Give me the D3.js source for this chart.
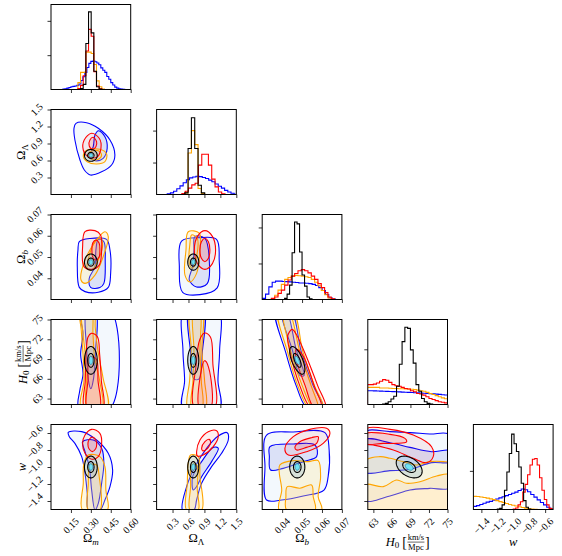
<!DOCTYPE html>
<html><head><meta charset="utf-8">
<script src="https://cdn.jsdelivr.net/npm/d3@7"></script>
<style>body{margin:0;background:#fff}svg{display:block}text{font-family:"Liberation Serif","DejaVu Serif",serif;fill:#000}</style>
</head><body><svg id="c" width="562" height="556"></svg>
<script>
// ---------------- DATA ----------------
const vars = ["Om","OL","Ob","H0","w"];
const domains = {Om:[0,0.6], OL:[0,1.5], Ob:[0.03,0.07], H0:[62.1,75], w:[-1.5,-0.5]};
const ticks = {Om:[0.15,0.30,0.45,0.60], OL:[0.3,0.6,0.9,1.2,1.5], Ob:[0.04,0.05,0.06,0.07], H0:[63,66,69,72,75], w:[-1.4,-1.2,-1.0,-0.8,-0.6]};
const tickDecimals = {Om:2, OL:1, Ob:2, H0:0, w:1};
const series = ["blue","orange","red","black"];
const seriesColor = {blue:"#0000ff", orange:"#ffa500", red:"#ff0000", black:"#000000"};

// histogram heights (arbitrary density units), bins: [start, width]
const histTop = {Om:24.76, OL:26.6, Ob:23.6, H0:15.4, w:22.0};
const histTicks = {Om:[10,20], OL:[10,20], Ob:[10,20], H0:[10], w:[10]};

const omBins = {blue:[0.09,0.015], orange:[0.2025,0.02], red:[0.2025,0.02], black:[0.2025,0.02]};
const omBlue = [0.1,0.2,0.4,0.6,0.8,0.9,1.0,1.2,1.6,2.6,3.7,5.0,6.4,7.6,8.2,8.3,8.1,7.7,7.2,6.3,5.6,5.0,3.8,3.0,2.0,1.3,0.7,0.4,0.2,0.1,0.05];
const omOrange = [2.0,5.0,5.0,10.9,10.9,10.5,7.3,2.5,0.8,0.1];
const omRed = [0.3,1.2,4.0,11.2,17.5,15.5,5.2,1.0,0.2];
const omBlack = [0.0,0.3,1.5,13.4,22.6,16.5,5.3,0.8,0.1];

const olBins = {blue:[0.20,0.06], orange:[0.53,0.0625], red:[0.475,0.0625], black:[0.53,0.0625]};
const olBlue = [0.2,0.5,1.0,1.8,2.7,3.7,4.6,5.2,5.5,5.7,5.6,5.3,5.0,4.5,4.0,3.3,2.6,2.0,1.3,0.8,0.4,0.1];
const olOrange = [0.5,13,20,15.6,1.9,0.3];
const olRed = [0.3,1.0,2.0,3.0,3.5,9.2,12.6,12.6,9.2,4.8,2.4,0.8,0.2];
const olBlack = [0.5,14.4,24.0,14.4,2.9,0.5];

const obBins = {blue:[0.030,0.00167], orange:[0.0346,0.00167], red:[0.0346,0.00167], black:[0.04125,0.00125]};
const obBlue = [0.3,1.5,3.5,4.8,5.1,5.1,5.0,4.95,4.9,4.8,4.7,4.6,4.6,4.5,4.4,4.2,3.9,3.3,2.5,1.4,0.5,0.1];
const obOrange = [0.2,1.2,2.6,4.2,5.6,6.1,6.5,6.7,6.6,6.5,6.3,6.1,5.6,4.8,3.8,2.5,1.3,0.4,0.1];
const obRed = [0.3,0.7,1.7,2.6,4.0,5.4,6.5,7.2,8.0,8.3,8.0,7.4,6.5,5.6,4.4,3.3,1.9,0.7,0.2];
const obBlack = [0.3,1.5,4.0,13.0,21.5,21.0,13.2,6.8,3.7,0.7,0.2];

const h0Bins = {blue:[62.0,0.5], orange:[62.0,0.5], red:[62.0,0.5], black:[64.5,0.45]};
const h0Blue = [2.5,2.48,2.46,2.44,2.42,2.4,2.38,2.35,2.33,2.3,2.28,2.25,2.22,2.2,2.17,2.14,2.1,2.07,2.03,2.0,1.96,1.92,1.88,1.83,1.78,1.72];
const h0Orange = [3.1,3.1,3.1,3.1,3.0,3.0,3.0,2.95,2.9,2.9,2.85,2.85,2.8,2.8,2.75,2.7,2.6,2.5,2.4,2.2,2.0,1.8,1.6,1.4,1.2,1.05];
const h0Red = [3.6,3.6,3.7,3.9,4.2,4.5,4.4,4.0,3.6,3.4,3.3,3.1,2.9,2.8,2.5,2.3,2.0,1.9,1.7,1.4,1.1,0.9,0.7,0.5,0.4,0.3];
const h0Black = [0.1,0.2,0.5,1.0,1.5,3.3,7.3,11.4,14.0,13.8,9.9,7.5,3.6,2.4,1.1,0.5,0.2,0.1];

const wBins = {blue:[-1.5,0.04], orange:[-1.5,0.04], red:[-1.0,0.03], black:[-1.2,0.03]};
const wBlue = [0.8,1.0,1.3,1.6,1.9,2.1,2.4,2.7,3.0,3.3,3.6,3.9,4.2,4.5,4.9,5.3,5.1,4.6,3.9,3.2,2.5,1.8,1.2,0.6,0.1];
const wOrange = [3.4,3.35,3.25,3.1,2.95,2.75,2.55,2.3,2.05,1.8,1.55,1.3,1.1,0.9,0.7,0.5,0.35,0.2,0.1,0.05];
const wRed = [0.1,0.4,1.2,2.0,4.5,6.5,9.0,11.5,13.0,13.2,11.5,8.2,5.0,2.6,1.2,0.3,0.1];
const wBlack = [0.1,0.3,1.2,5.0,9.7,14.5,19.5,17.0,15.0,11.0,6.8,2.3,0.6,0.1];

const histValues = {
  Om:{blue:omBlue, orange:omOrange, red:omRed, black:omBlack},
  OL:{blue:olBlue, orange:olOrange, red:olRed, black:olBlack},
  Ob:{blue:obBlue, orange:obOrange, red:obRed, black:obBlack},
  H0:{blue:h0Blue, orange:h0Orange, red:h0Red, black:h0Black},
  w:{blue:wBlue, orange:wOrange, red:wRed, black:wBlack}
};
const histBins = {Om:omBins, OL:olBins, Ob:obBins, H0:h0Bins, w:wBins};

// 2D credible contours: [outer, inner] as [x,y] lists (x = column variable)
const cOL_Om = {
 blue:[[[0.188,1.256],[0.268,1.267],[0.356,1.168],[0.444,0.962],[0.481,0.697],[0.456,0.52],[0.381,0.40],[0.297,0.344],[0.251,0.432],[0.218,0.609],[0.180,0.962],[0.173,1.168]],
       [[0.358,1.126],[0.406,1.02],[0.423,0.815],[0.393,0.639],[0.331,0.597],[0.288,0.667],[0.318,0.844],[0.331,1.05]]],
 orange:[[[0.273,0.785],[0.368,0.797],[0.419,0.715],[0.406,0.579],[0.343,0.538],[0.273,0.579],[0.243,0.679]],
       [[0.293,0.755],[0.356,0.773],[0.381,0.697],[0.356,0.621],[0.306,0.621],[0.280,0.679]]],
 red:[[[0.306,1.08],[0.363,0.992],[0.376,0.815],[0.343,0.656],[0.280,0.667],[0.243,0.785],[0.250,0.962]],
       [[0.318,1.009],[0.343,0.932],[0.338,0.844],[0.314,0.798],[0.288,0.856],[0.293,0.962]]]
};
const cOb_Om = {
 blue:[[[0.213,0.0572],[0.293,0.0587],[0.418,0.0583],[0.444,0.0533],[0.449,0.0423],[0.431,0.0357],[0.356,0.0334],[0.256,0.0337],[0.213,0.0357],[0.198,0.0455],[0.203,0.0533]],
       [[0.356,0.0583],[0.398,0.0572],[0.408,0.0486],[0.398,0.0376],[0.368,0.0356],[0.298,0.0357],[0.288,0.0400],[0.331,0.0455],[0.338,0.0533]]],
 orange:[[[0.406,0.0619],[0.431,0.0596],[0.393,0.0502],[0.331,0.0415],[0.256,0.0376],[0.226,0.0392],[0.256,0.0486],[0.343,0.0580]],
       [[0.368,0.0588],[0.388,0.0565],[0.356,0.0486],[0.306,0.0439],[0.273,0.0447],[0.293,0.0518],[0.338,0.0580]]],
 red:[[[0.256,0.0619],[0.331,0.0624],[0.373,0.0604],[0.381,0.0533],[0.363,0.0462],[0.306,0.0442],[0.248,0.0455],[0.238,0.0549]],
       [[0.338,0.0580],[0.362,0.0566],[0.368,0.0533],[0.362,0.0500],[0.338,0.0486],[0.314,0.0500],[0.308,0.0533],[0.314,0.0566]]]
};
const cOb_OL = {
 blue:[[[0.47,0.0575],[0.815,0.0591],[1.128,0.0583],[1.178,0.0488],[1.14,0.0355],[0.815,0.0323],[0.49,0.0334],[0.428,0.0456]],
       [[0.72,0.0596],[0.909,0.0588],[0.991,0.0486],[0.953,0.0375],[0.753,0.0359],[0.615,0.0392],[0.678,0.0455],[0.703,0.0533]]],
 orange:[[[0.596,0.0619],[0.803,0.0612],[0.815,0.0533],[0.753,0.0423],[0.628,0.0383],[0.534,0.0415],[0.553,0.0533]],
       [[0.659,0.0604],[0.765,0.0588],[0.753,0.0502],[0.678,0.0447],[0.615,0.0470],[0.628,0.0565]]],
 red:[[[0.91,0.0624],[1.05,0.0597],[1.11,0.0533],[1.05,0.0469],[0.91,0.0442],[0.77,0.0469],[0.71,0.0533],[0.77,0.0597]],
       [[0.909,0.0588],[0.975,0.0572],[1.003,0.0533],[0.975,0.0494],[0.909,0.0478],[0.843,0.0494],[0.815,0.0533],[0.843,0.0572]]]
};
const cH0_Om = {
 blue:[[[0.228,76.4],[0.449,76.4],[0.449,61.6],[0.211,61.6],[0.216,64.15],[0.241,66.74],[0.223,69.77],[0.241,72.8]],
       [[0.27,76.4],[0.335,76.4],[0.335,70],[0.32,66],[0.30,64.5],[0.28,66],[0.27,70]]],
 orange:[[[0.223,76.4],[0.323,76.4],[0.333,73.81],[0.353,70.28],[0.391,66.23],[0.424,61.6],[0.228,61.6],[0.248,65.72],[0.241,69.77],[0.228,73.3]],
       [[0.236,76.4],[0.303,76.4],[0.316,72.8],[0.328,69.27],[0.366,65.72],[0.384,61.6],[0.273,61.6],[0.266,65.72],[0.258,69.77],[0.241,72.8]]],
 red:[[[0.303,72.9],[0.349,72.4],[0.366,69.77],[0.379,65.72],[0.391,61.6],[0.253,61.6],[0.258,65.72],[0.266,70.28],[0.278,72.3]],
       [[0.291,69.27],[0.341,69.0],[0.354,65.72],[0.366,61.6],[0.273,61.6],[0.278,65.72]]]
};
const cH0_OL = {
 blue:[[[0.527,76.4],[1.155,76.4],[1.186,70.28],[1.155,65.72],[1.186,61.6],[0.496,61.6],[0.527,65.72],[0.496,70.28]],
       [[0.62,76.4],[0.88,76.4],[0.86,70],[0.80,66],[0.70,66],[0.64,70]]],
 orange:[[[0.640,76.4],[0.853,76.4],[0.853,70.28],[0.903,65.72],[0.916,61.6],[0.590,61.6],[0.621,65.72],[0.652,70.28]],
       [[0.697,76.4],[0.81,76.4],[0.816,70.28],[0.841,65.72],[0.853,61.6],[0.665,61.6],[0.684,65.72],[0.703,70.28]]],
 red:[[[0.903,72.95],[1.015,72.3],[1.059,68.24],[1.09,61.6],[0.715,61.6],[0.746,68.24],[0.81,71.9]],
       [[0.903,68.75],[0.978,67.74],[1.015,61.6],[0.81,61.6],[0.828,66.73]]]
};
const cH0_Ob = {
 blue:[[[0.0368,76.4],[0.0442,76.4],[0.0497,70],[0.0555,65],[0.0605,61.6],[0.0525,61.6],[0.0470,65],[0.0418,70]],
       [[0.0395,76.4],[0.0420,76.4],[0.0470,70.5],[0.0510,66.5],[0.0490,66.5],[0.0450,70.5]]],
 orange:[[[0.0380,76.4],[0.0452,76.4],[0.0505,70],[0.0562,65],[0.0605,61.6],[0.0535,61.6],[0.0478,65],[0.0428,70]],
       [[0.0405,76.4],[0.0432,76.4],[0.0490,70],[0.0545,65],[0.0580,61.6],[0.0555,61.6],[0.0500,65],[0.0445,70]]],
 red:[[[0.0428,72.5],[0.0450,73.5],[0.0470,72.8],[0.0520,69.5],[0.0578,65],[0.0618,61.6],[0.0545,61.6],[0.0488,65],[0.0440,70]],
       [[0.0470,70.5],[0.0505,69.5],[0.0560,65],[0.0598,61.6],[0.0560,61.6],[0.0515,65],[0.0470,69]]]
};
const cW_Om = {
 blue:[[[0.130,-0.592],[0.231,-0.584],[0.343,-0.682],[0.431,-0.839],[0.464,-1.035],[0.444,-1.231],[0.406,-1.388],[0.368,-1.506],[0.281,-1.506],[0.273,-1.31],[0.256,-1.075],[0.231,-0.878],[0.180,-0.722],[0.138,-0.643]],
       [[0.238,-0.702],[0.318,-0.682],[0.381,-0.780],[0.398,-0.957],[0.381,-1.192],[0.356,-1.427],[0.331,-1.506],[0.306,-1.271],[0.288,-0.996],[0.256,-0.820]]],
 orange:[[[0.281,-0.859],[0.368,-0.878],[0.406,-0.996],[0.413,-1.271],[0.424,-1.506],[0.238,-1.506],[0.243,-1.192],[0.248,-0.957]],
       [[0.293,-0.976],[0.343,-0.976],[0.363,-1.114],[0.368,-1.506],[0.281,-1.506],[0.281,-1.192],[0.283,-1.035]]],
 red:[[[0.256,-0.623],[0.306,-0.557],[0.368,-0.604],[0.381,-0.739],[0.356,-0.878],[0.306,-0.909],[0.256,-0.839],[0.238,-0.721]],
       [[0.311,-0.647],[0.336,-0.68],[0.344,-0.733],[0.336,-0.786],[0.311,-0.819],[0.286,-0.786],[0.278,-0.733],[0.286,-0.68]]]
};
const cW_OL = {
 blue:[[[0.49,-1.506],[0.565,-1.231],[0.722,-0.996],[0.941,-0.780],[1.161,-0.635],[1.330,-0.596],[1.349,-0.682],[1.223,-0.839],[1.035,-0.996],[0.847,-1.192],[0.753,-1.388],[0.703,-1.506]],
       [[0.678,-1.114],[0.847,-0.937],[1.066,-0.769],[1.161,-0.78],[1.035,-0.937],[0.847,-1.114],[0.753,-1.231],[0.69,-1.271]]],
 orange:[[[0.64,-0.859],[0.784,-0.878],[0.816,-1.114],[0.847,-1.506],[0.565,-1.506],[0.578,-1.192],[0.596,-0.957]],
       [[0.659,-0.976],[0.753,-0.976],[0.766,-1.271],[0.784,-1.506],[0.628,-1.506],[0.64,-1.231]]],
 red:[[[0.753,-0.82],[0.816,-0.682],[0.972,-0.584],[1.129,-0.573],[1.161,-0.643],[1.066,-0.761],[0.878,-0.859],[0.766,-0.871]],
       [[0.847,-0.78],[0.91,-0.702],[0.991,-0.675],[1.016,-0.714],[0.941,-0.792],[0.866,-0.808]]]
};
const cW_Ob = {
 blue:[[[0.0322,-0.624],[0.0456,-0.588],[0.0615,-0.596],[0.0636,-0.8],[0.0631,-1.114],[0.0610,-1.271],[0.0506,-1.341],[0.0398,-1.388],[0.0322,-1.388],[0.0314,-0.996]],
       [[0.0339,-0.761],[0.0456,-0.729],[0.0565,-0.741],[0.0573,-0.878],[0.0506,-0.937],[0.0406,-1.016],[0.0342,-1.035],[0.0336,-0.878]]],
 orange:[[[0.0389,-0.976],[0.0456,-0.925],[0.0531,-0.937],[0.0581,-0.925],[0.0593,-1.114],[0.0581,-1.349],[0.0598,-1.506],[0.0386,-1.506],[0.0398,-1.271],[0.0386,-1.075]],
       [[0.0426,-1.231],[0.0489,-1.25],[0.0548,-1.212],[0.0556,-1.349],[0.0565,-1.506],[0.0423,-1.506],[0.0419,-1.349]]],
 red:[[[0.0414,-0.780],[0.0456,-0.643],[0.0539,-0.557],[0.0623,-0.545],[0.0640,-0.604],[0.0606,-0.722],[0.0523,-0.82],[0.0431,-0.859]],
       [[0.0464,-0.769],[0.0489,-0.702],[0.0548,-0.655],[0.0581,-0.643],[0.0573,-0.722],[0.0523,-0.769],[0.0473,-0.8]]]
};
const cW_H0 = {
 blue:[[[61.5,-0.596],[65.69,-0.584],[68.92,-0.596],[72.15,-0.612],[75.5,-0.624],[75.5,-1.239],[72.15,-1.251],[68.92,-1.271],[65.69,-1.341],[61.5,-1.388]],
       [[61.5,-0.682],[65.69,-0.714],[68.92,-0.769],[72.42,-0.82],[75.5,-0.808],[75.5,-0.937],[72.42,-0.949],[68.92,-1.027],[65.69,-1.043],[61.5,-1.055]]],
 orange:[[[61.5,-0.937],[64.07,-0.878],[65.69,-0.898],[67.84,-0.937],[70.0,-0.976],[72.15,-0.937],[74.31,-0.937],[75.5,-0.957],[75.5,-1.6],[61.5,-1.6]],
       [[61.5,-1.212],[64.61,-1.231],[66.77,-1.153],[68.38,-1.192],[70.54,-1.173],[73.23,-1.106],[75.5,-1.094],[75.5,-1.6],[61.5,-1.6]]],
 red:[[[61.92,-0.549],[65.69,-0.557],[69.46,-0.624],[72.42,-0.761],[72.69,-0.878],[71.62,-0.949],[69.46,-0.898],[66.23,-0.8],[62.99,-0.741],[61.5,-0.722]],
       [[61.5,-0.612],[65.69,-0.616],[68.11,-0.663],[68.38,-0.702],[66.77,-0.722],[64.61,-0.722],[61.5,-0.722]]]
};
const contours2D = {OL_Om:cOL_Om, Ob_Om:cOb_Om, Ob_OL:cOb_OL, H0_Om:cH0_Om, H0_OL:cH0_OL, H0_Ob:cH0_Ob, w_Om:cW_Om, w_OL:cW_OL, w_Ob:cW_Ob, w_H0:cW_H0};

// black (tight) constraint: mean, sigma, correlations
const blackMean = {Om:0.30, OL:0.69, Ob:0.0476, H0:68.8, w:-1.0};
const blackSigma = {Om:0.024, OL:0.052, Ob:0.0019, H0:1.05, w:0.064};
const blackCorr = {"Ob|H0":-0.65, "H0|w":-0.4};
const blackLevels = [2, 1];
const cyanLevel = 0.6;

// ---------------- STYLE / LAYOUT ----------------
const PW = 79.7, PH = 85;
const colX0 = j => 51 + 105.6*j;
const rowY0 = i => 4.5 + 105*i;
const fills = {
  blue:[{c:"#5a9ae6",o:0.07},{c:"#3040d0",o:0.12}],
  orange:[{c:"#ffe680",o:0.24},{c:"#ffb060",o:0.13}],
  red:[{c:"#ff2020",o:0.07},{c:"#ff2020",o:0.13}]
};
const svg = d3.select("#c");
const defs = svg.append("defs");
const fmtTick = (v,val) => { const s = val.toFixed(tickDecimals[v]); return s.replace("-","\u2212"); };

function xScale(v,j){ return d3.scaleLinear().domain(domains[v]).range([colX0(j), colX0(j)+PW]); }
function yScale(v,i){ return d3.scaleLinear().domain(domains[v]).range([rowY0(i)+PH, rowY0(i)]); }

function gaussPts(mx,my,sx,sy,rho,k){
  const pts=[]; const s=Math.sqrt(1-rho*rho);
  for(let a=0;a<72;a++){ const t=a/72*2*Math.PI;
    pts.push([mx+k*sx*Math.cos(t), my+k*sy*(rho*Math.cos(t)+s*Math.sin(t))]); }
  return pts;
}

for(let i=0;i<5;i++){
  for(let j=0;j<=i;j++){
    const x0=colX0(j), y0=rowY0(i);
    const cid=`clip${i}${j}`;
    defs.append("clipPath").attr("id",cid).append("rect").attr("x",x0).attr("y",y0).attr("width",PW).attr("height",PH);
    const g = svg.append("g");
    const inner = g.append("g").attr("clip-path",`url(#${cid})`);
    const xv = vars[j], yv = vars[i];
    const x = xScale(xv,j);
    let y;
    if(i===j){
      y = d3.scaleLinear().domain([0,histTop[xv]]).range([y0+PH,y0]);
      const line = d3.line().x(d=>x(d[0])).y(d=>y(d[1]));
      series.forEach(s=>{
        const [st,wd] = histBins[xv][s]; const vals = histValues[xv][s];
        const pts=[[st,0]];
        vals.forEach((v,k)=>{ pts.push([st+k*wd,v]); pts.push([st+(k+1)*wd,v]); });
        pts.push([st+vals.length*wd,0]);
        inner.append("path").attr("d",line(pts)).attr("fill","none").attr("stroke",seriesColor[s]).attr("stroke-width",1.1);
      });
      g.append("g").attr("transform",`translate(${x0},0)`).call(d3.axisLeft(y).tickValues(histTicks[xv]).tickSize(3.5).tickFormat(""));
    } else {
      y = yScale(yv,i);
      const line = d3.line().x(d=>x(d[0])).y(d=>y(d[1])).curve(d3.curveCatmullRomClosed.alpha(0.5));
      const cset = contours2D[`${yv}_${xv}`];
      ["blue","orange","red"].forEach(s=>{
        const [outer,innerC] = cset[s];
        inner.append("path").attr("d",line(outer)).attr("fill",fills[s][0].c).attr("fill-opacity",fills[s][0].o).attr("stroke","none");
        inner.append("path").attr("d",line(innerC)).attr("fill",fills[s][1].c).attr("fill-opacity",fills[s][1].o).attr("stroke","none");
        inner.append("path").attr("d",line(outer)).attr("fill","none").attr("stroke",seriesColor[s]).attr("stroke-width",1.1);
        inner.append("path").attr("d",line(innerC)).attr("fill","none").attr("stroke",seriesColor[s]).attr("stroke-width",1.1);
      });
      const rho = blackCorr[`${xv}|${yv}`] || 0;
      const bl = d3.line().x(d=>x(d[0])).y(d=>y(d[1])).curve(d3.curveLinearClosed);
      blackLevels.forEach((k,n)=>{
        const p = gaussPts(blackMean[xv],blackMean[yv],blackSigma[xv],blackSigma[yv],rho,k);
        inner.append("path").attr("d",bl(p)).attr("fill",n===0?"#5d9cc4":"none").attr("fill-opacity",0.2)
          .attr("stroke","#000").attr("stroke-width",1.1);
      });
      const pc = gaussPts(blackMean[xv],blackMean[yv],blackSigma[xv],blackSigma[yv],rho,cyanLevel);
      inner.append("path").attr("d",bl(pc)).attr("fill","#72e2f4").attr("stroke","#2488a8").attr("stroke-width",0.8);
      g.append("g").attr("transform",`translate(${x0},0)`).call(d3.axisLeft(y).tickValues(ticks[yv]).tickSize(3.5).tickFormat(""));
    }
    g.append("g").attr("transform",`translate(0,${y0+PH})`).call(d3.axisBottom(x).tickValues(ticks[xv]).tickSize(3.5).tickFormat(""));
    g.selectAll(".domain").remove();
    g.selectAll(".tick line").attr("stroke","#000").attr("stroke-width",0.8);
    g.append("rect").attr("x",x0).attr("y",y0).attr("width",PW).attr("height",PH).attr("fill","none").attr("stroke","#000").attr("stroke-width",1);

    // tick labels
    if(i===4){
      ticks[xv].forEach(tv=>{
        const t = svg.append("text").attr("font-size",10).attr("text-anchor","end").attr("dominant-baseline","central").text(fmtTick(xv,tv));
        const L = t.node().getComputedTextLength();
        const px = x(tv)+0.354*L, py = y0+PH+10;
        t.attr("transform",`translate(${px},${py}) rotate(-45)`);
      });
    }
    if(j===0 && i>0){
      ticks[yv].forEach(tv=>{
        const t = svg.append("text").attr("font-size",10).attr("text-anchor","end").attr("dominant-baseline","central").text(fmtTick(yv,tv));
        const L = t.node().getComputedTextLength();
        const px = x0-10, py = y(tv)-0.354*L;
        t.attr("transform",`translate(${px},${py}) rotate(-45)`);
      });
    }
  }
}

// axis labels
function mathLabel(g, v){
  const fs=12.5;
  if(v==="H0"){
    const t1 = g.append("text").attr("font-size",fs);
    t1.append("tspan").attr("font-style","italic").text("H");
    t1.append("tspan").attr("font-size",9).attr("dy",2.5).text("0");
    const w1 = t1.node().getComputedTextLength()+3;
    const bo = g.append("text").attr("font-size",14).attr("y",1.5).text("[");
    const wb = bo.node().getComputedTextLength();
    const num = g.append("text").attr("font-size",8.5).attr("text-anchor","middle").attr("y",-5.3).text("km/s");
    const den = g.append("text").attr("font-size",8.5).attr("text-anchor","middle").attr("y",4.6).text("Mpc");
    const wf = Math.max(num.node().getComputedTextLength(), den.node().getComputedTextLength())+1.5;
    const bc = g.append("text").attr("font-size",14).attr("y",1.5).text("]");
    const wc = bc.node().getComputedTextLength();
    const total = w1+wb+wf+wc; let cx=-total/2;
    t1.attr("x",cx); cx+=w1;
    bo.attr("x",cx); cx+=wb;
    num.attr("x",cx+wf/2); den.attr("x",cx+wf/2);
    g.append("line").attr("x1",cx+0.5).attr("x2",cx+wf-0.5).attr("y1",-3.4).attr("y2",-3.4).attr("stroke","#000").attr("stroke-width",0.6);
    cx+=wf; bc.attr("x",cx);
    return;
  }
  const t = g.append("text").attr("font-size",fs).attr("text-anchor","middle");
  if(v==="w"){ t.append("tspan").attr("font-style","italic").text("w"); return; }
  t.append("tspan").text("\u03A9");
  const sub = {Om:["m","italic"], OL:["\u039B","normal"], Ob:["b","italic"]}[v];
  t.append("tspan").attr("font-size",9).attr("dy",3).attr("font-style",sub[1]).text(sub[0]);
}
const bottomBase = {Om:542, OL:542, Ob:542, H0:545.5, w:546};
vars.forEach((v,j)=>{
  const g = svg.append("g").attr("transform",`translate(${colX0(j)+PW/2},${bottomBase[v]})`);
  mathLabel(g,v);
});
const leftBase = {OL:24.5, Ob:24.5, H0:26.5, w:25.5};
vars.slice(1).forEach((v,k)=>{
  const i=k+1;
  const g = svg.append("g").attr("transform",`translate(${leftBase[v]},${rowY0(i)+PH/2}) rotate(-90)`);
  mathLabel(g,v);
});
</script></body></html>
